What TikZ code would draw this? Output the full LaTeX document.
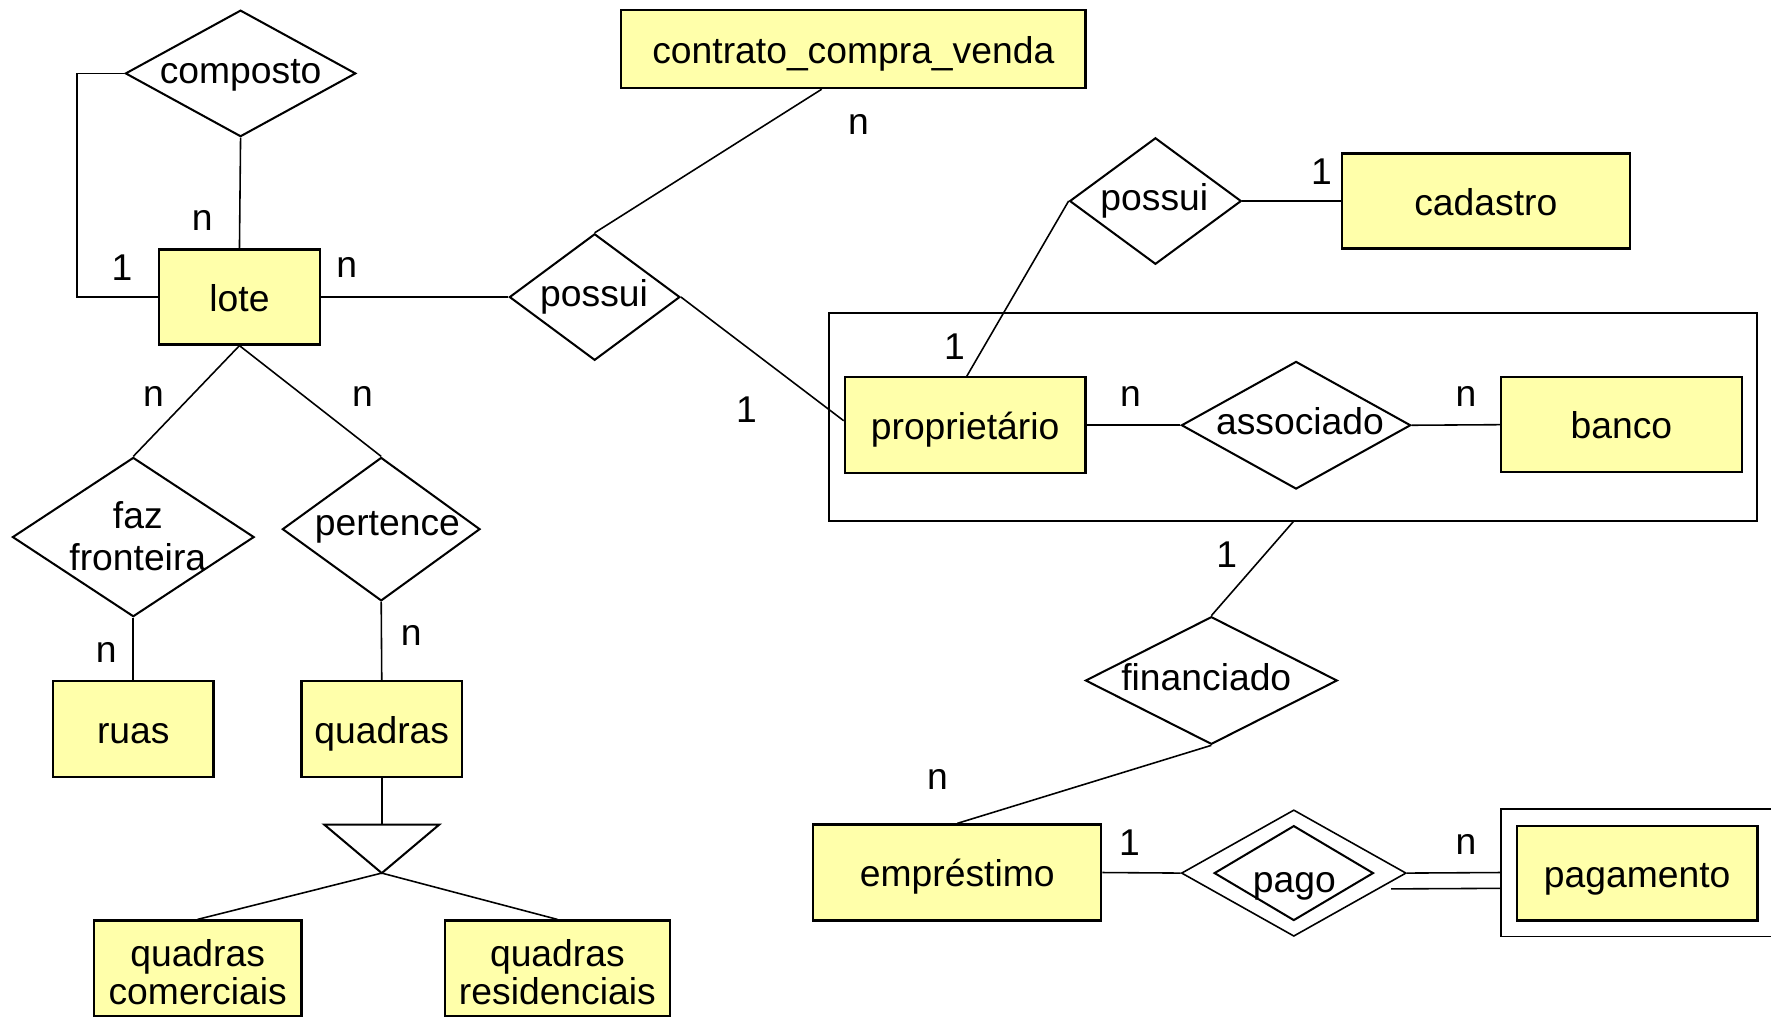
\documentclass[tikz,border=0pt]{standalone}
\usepackage{fontspec}
\setmainfont{Liberation Sans}
\usetikzlibrary{shapes.geometric,calc}
\definecolor{entfill}{HTML}{FFFFAA}
\tikzset{
  oneline/.style={text height=25pt,text depth=0pt},
  ent/.style={draw=black,line width=2pt,fill=entfill,rectangle,inner sep=0pt,align=center,oneline},
  rel/.style={draw=black,line width=1.8pt,fill=white,diamond,inner sep=0pt},
  txt/.style={inner sep=0pt,align=center,oneline},
  card/.style={inner sep=0pt},
  conn/.style={draw=black,line width=1.4pt},
  every node/.style={font=\fontsize{33}{37}\selectfont}
}
\begin{document}
\begin{tikzpicture}[x=1pt,y=-1pt]
\useasboundingbox (0,0) rectangle (1568,900);
\fill[white] (0,0) rectangle (1568,900);
\clip (0,0) rectangle (1568,900);

% aggregation box
\node[draw=black,line width=1.8pt,rectangle,inner sep=0pt,minimum width=822pt,minimum height=184pt] (agg) at (1145,369) {};
% weak entity outer box
\node[draw=black,line width=1.4pt,rectangle,inner sep=0pt,minimum width=280pt,minimum height=113pt] (pagbox) at (1469,772.5) {};

% entities
\node[ent,minimum width=142pt,minimum height=84pt] (lote) at (212,263) {lote};
\node[ent,minimum width=411pt,minimum height=69pt] (contrato) at (755.5,43.5) {contrato\_compra\_venda};
\node[ent,minimum width=213pt,minimum height=85pt] (prop) at (854.5,376.5) {proprietário};
\node[ent,minimum width=255pt,minimum height=84pt] (cadastro) at (1315.5,178) {cadastro};
\node[ent,minimum width=213pt,minimum height=84pt] (banco) at (1435.5,376) {banco};
\node[ent,minimum width=255pt,minimum height=85pt] (emprestimo) at (847.5,772.5) {empréstimo};
\node[ent,minimum width=213pt,minimum height=84pt] (pagamento) at (1449.5,773) {pagamento};
\node[ent,minimum width=142pt,minimum height=85pt] (ruas) at (118,645.5) {ruas};
\node[ent,minimum width=142pt,minimum height=85pt] (quadras) at (338,645.5) {quadras};
\node[ent,minimum width=184pt,minimum height=85pt] (qcom) at (175,857.5) {};
\node[ent,minimum width=199pt,minimum height=85pt] (qres) at (493.5,857.5) {};
\node[txt,font=\fontsize{33}{34}\selectfont] (tqcom) at (175,877) {quadras\\comerciais};
\node[txt,font=\fontsize{33}{34}\selectfont] (tqres) at (493.5,877) {quadras\\residenciais};

% relationships
\node[rel,minimum width=204pt,minimum height=112pt] (composto) at (213,65) {};
\node[rel,minimum width=151pt,minimum height=112pt] (possuiA) at (526.5,263) {};
\node[rel,minimum width=152pt,minimum height=112pt] (possuiB) at (1023,178) {};
\node[rel,minimum width=203pt,minimum height=113pt] (associado) at (1147.5,376.5) {};
\node[rel,minimum width=223pt,minimum height=113pt] (financiado) at (1072.5,602.5) {};
\node[rel,minimum width=214pt,minimum height=141pt] (faz) at (118,475.5) {};
\node[rel,minimum width=175pt,minimum height=127pt] (pertence) at (337.5,468.5) {};
\node[rel,line width=1.4pt,minimum width=199pt,minimum height=112pt] (pago) at (1145.5,773) {};
\node[rel,minimum width=141pt,minimum height=84pt] (pagoin) at (1145.5,773) {};

% relationship texts
\node[txt] (tcomposto) at (213,61.5) {composto};
\node[txt] (tpossuiA) at (526,258.5) {possui};
\node[txt] (tpossuiB) at (1022,174) {possui};
\node[txt] (tassociado) at (1151,372.5) {associado};
\node[txt] (tfinanciado) at (1068,598.5) {financiado};
\node[txt] (tfaz) at (122,492.7) {faz\\fronteira};
\node[txt] (tpertence) at (343,461.5) {pertence};
\node[txt] (tpago) at (1146,778) {pago};

% ISA triangle
\coordinate (isaL) at (287,730);
\coordinate (isaR) at (389,730);
\coordinate (isaT) at (338,730);
\coordinate (isaA) at (338,773);
\draw[line width=1.8pt,line join=miter] (isaL) -- (isaR) -- (isaA) -- cycle;

% connectors
\coordinate (loopc) at (68,160);
\draw[conn] (composto.south) -- (lote.north);
\draw[conn] (composto.west) -| (loopc) |- (lote.west);
\draw[conn] (lote.east) -- (possuiA.west);
\draw[conn] ([xshift=-28pt]contrato.south) -- (possuiA.north);
\draw[conn] (possuiA.east) -- ([yshift=4pt]prop.west);
\draw[conn] ([xshift=1.5pt]prop.north) -- (possuiB.west);
\draw[conn] (possuiB.east) -- (cadastro.west);
\draw[conn] (prop.east) -- (associado.west);
\draw[conn] (associado.east) -- (banco.west);
\draw[conn] (agg.south) -- (financiado.north);
\draw[conn] (financiado.south) -- (emprestimo.north);
\draw[conn] (emprestimo.east) -- (pago.west);
\draw[conn] (pago.east) -- (pagbox.west);
\draw[conn] ($(pago.east)+(-14,14)$) -- ([yshift=-14pt]pagbox.west);
\draw[conn] (lote.south) -- (faz.north);
\draw[conn] (lote.south) -- (pertence.north);
\draw[conn] (faz.south) -- (ruas.north);
\draw[conn] (pertence.south) -- (quadras.north);
\draw[conn] (quadras.south) -- (isaT);
\draw[conn] (isaA) -- (qcom.north);
\draw[conn] (isaA) -- (qres.north);

% cardinalities
\node[card] (c1) at (179,195) {n};
\node[card] (c2) at (108,237) {1};
\node[card] (c3) at (307,237) {n};
\node[card] (c4) at (760,110) {n};
\node[card] (c5) at (661,363) {1};
\node[card] (c6) at (845,307) {1};
\node[card] (c7) at (1170,152) {1};
\node[card] (c8) at (1001,351) {n};
\node[card] (c9) at (1298,351) {n};
\node[card] (c10) at (1086,491) {1};
\node[card] (c11) at (830,690) {n};
\node[card] (c12) at (1000,746) {1};
\node[card] (c13) at (1298,748) {n};
\node[card] (c14) at (136,351) {n};
\node[card] (c15) at (321,351) {n};
\node[card] (c16) at (94,578) {n};
\node[card] (c17) at (364,563) {n};
\end{tikzpicture}
\end{document}
